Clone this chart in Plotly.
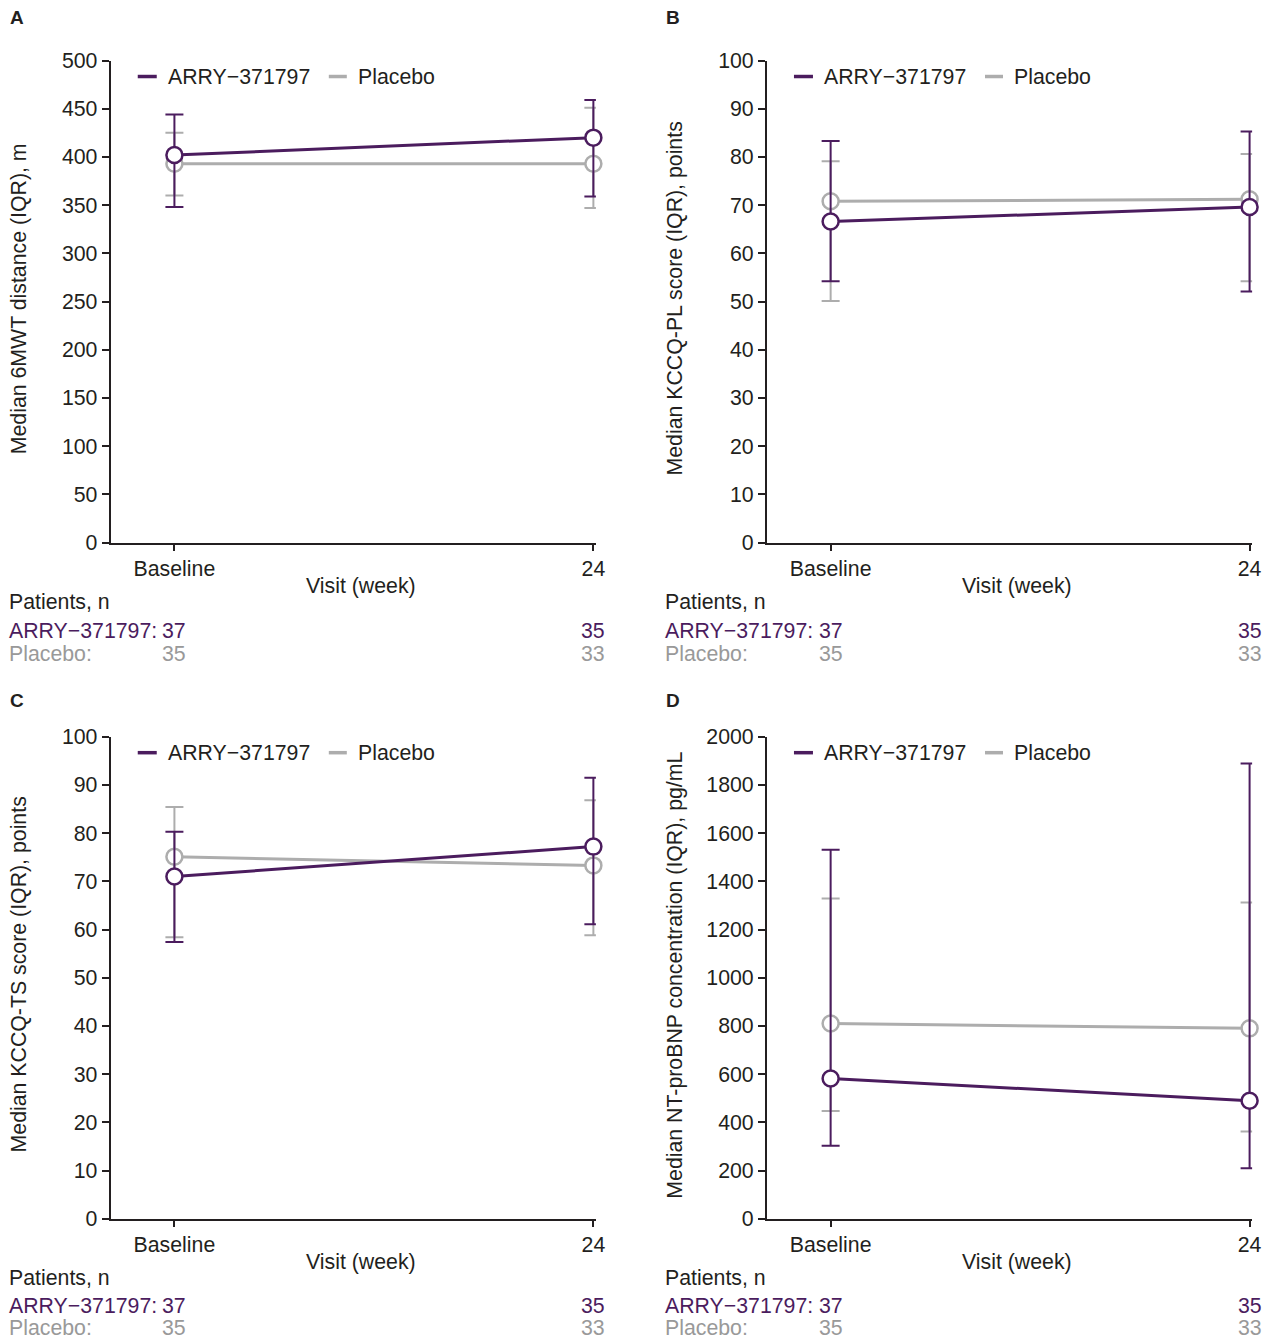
import plotly.graph_objects as go

# Figure canvas (body margin removed via post_script so figure starts at page 0,0)
W, H = 1272, 1352

PURPLE = "#4b1c5e"
GREY = "#adadad"
GREY_TXT = "#999999"
TXT = "#231f20"
FONT = "Liberation Sans, Arial, Helvetica, sans-serif"
FS = 21.3

# ---------------- data ----------------
visits = ["Baseline", "24"]
n_arry = [37, 35]
n_placebo = [35, 33]

# Panel A: 6MWT distance (m)
a_arry_med = [402, 420]
a_arry_q1 = [348, 359]
a_arry_q3 = [444, 459]
a_pl_med = [393, 393]
a_pl_q1 = [360, 347]
a_pl_q3 = [425, 451]

# Panel B: KCCQ-PL score
b_arry_med = [66.6, 69.6]
b_arry_q1 = [54.2, 52.1]
b_arry_q3 = [83.3, 85.3]
b_pl_med = [70.8, 71.2]
b_pl_q1 = [50.1, 54.2]
b_pl_q3 = [79.1, 80.6]

# Panel C: KCCQ-TS score
c_arry_med = [71.0, 77.2]
c_arry_q1 = [57.4, 61.1]
c_arry_q3 = [80.3, 91.5]
c_pl_med = [75.1, 73.3]
c_pl_q1 = [58.4, 58.8]
c_pl_q3 = [85.4, 86.8]

# Panel D: NT-proBNP (pg/mL)
d_arry_med = [582, 490]
d_arry_q1 = [303, 210]
d_arry_q3 = [1531, 1889]
d_pl_med = [810, 790]
d_pl_q1 = [447, 362]
d_pl_q3 = [1329, 1312]

panels = [
    dict(letter="A", left=112, top=60, ymax=500, dtick=50,
         ytitle="Median 6MWT distance (IQR), m",
         arry=(a_arry_med, a_arry_q1, a_arry_q3), pl=(a_pl_med, a_pl_q1, a_pl_q3)),
    dict(letter="B", left=768, top=60, ymax=100, dtick=10,
         ytitle="Median KCCQ-PL score (IQR), points",
         arry=(b_arry_med, b_arry_q1, b_arry_q3), pl=(b_pl_med, b_pl_q1, b_pl_q3)),
    dict(letter="C", left=112, top=736, ymax=100, dtick=10,
         ytitle="Median KCCQ-TS score (IQR), points",
         arry=(c_arry_med, c_arry_q1, c_arry_q3), pl=(c_pl_med, c_pl_q1, c_pl_q3)),
    dict(letter="D", left=768, top=736, ymax=2000, dtick=200,
         ytitle="Median NT-proBNP concentration (IQR), pg/mL",
         arry=(d_arry_med, d_arry_q1, d_arry_q3), pl=(d_pl_med, d_pl_q1, d_pl_q3)),
]

PW, PH = 485, 482  # plot area size (target px)
XR = [-0.152, 1.006]

# target-pixel -> canvas-pixel correction (measured from rendering)
SX, OX = 0.9926, 1.3
SY, OY = 0.982, 11.5


def px(x):
    return ((x - OX) / SX) / W


def py(y):
    return 1 - ((y - OY) / SY) / H


fig = go.Figure()
annotations = []
shapes = []
xpos = [0, 1]

for i, p in enumerate(panels):
    k = "" if i == 0 else str(i + 1)
    xa, ya = "x" + k, "y" + k
    L, T = p["left"], p["top"]
    R, B = L + PW, T + PH
    bottom_row = i >= 2

    for name, (med, q1, q3), col in [("Placebo", p["pl"], GREY), ("ARRY−371797", p["arry"], PURPLE)]:
        fig.add_trace(go.Scatter(
            x=xpos, y=med, mode="lines+markers", name=name, showlegend=False,
            xaxis=xa, yaxis=ya,
            line=dict(color=col, width=3),
            marker=dict(size=16, color="white", line=dict(color=col, width=2.5)),
            error_y=dict(type="data", symmetric=False,
                         array=[h - m for h, m in zip(q3, med)],
                         arrayminus=[m - l for m, l in zip(med, q1)],
                         color=col, thickness=2, width=9),
            cliponaxis=False,
        ))

    axis_common = dict(showline=True, linecolor=TXT, linewidth=2, ticks="outside",
                       tickcolor=TXT, tickwidth=1.5, showgrid=False, zeroline=False,
                       tickfont=dict(family=FONT, size=FS, color=TXT))
    fig.update_layout(**{
        "xaxis" + k: dict(domain=[px(L), px(R)], range=XR, tickvals=xpos, ticktext=visits,
                          ticklen=6, anchor=ya, fixedrange=True, **axis_common),
        "yaxis" + k: dict(domain=[py(B), py(T)], range=[0, p["ymax"]], dtick=p["dtick"],
                          tick0=0, ticklen=7, anchor=xa, fixedrange=True, **axis_common),
    })

    # panel letter
    annotations.append(dict(text="<b>" + p["letter"] + "</b>", x=px(L - 103), y=py(T - 43 if i < 2 else T - 36),
                            xref="paper", yref="paper", xanchor="left", yanchor="middle",
                            showarrow=False, font=dict(family=FONT, size=19, color=TXT)))
    # y title
    annotations.append(dict(text=p["ytitle"], x=px(L - 92), y=py(T + PH / 2 - 3),
                            xref="paper", yref="paper", xanchor="center", yanchor="middle",
                            textangle=-90, showarrow=False,
                            font=dict(family=FONT, size=FS, color=TXT)))
    # x title
    annotations.append(dict(text="Visit (week)", x=px(L + 250), y=py(B + 43),
                            xref="paper", yref="paper", xanchor="center", yanchor="middle",
                            showarrow=False, font=dict(family=FONT, size=FS, color=TXT)))
    # legend (manual)
    ly = py(T + 16)
    for lx0, lx1, tx, name, col in [(27, 46, 55, "ARRY−371797", PURPLE), (218, 236, 245, "Placebo", GREY)]:
        shapes.append(dict(type="line", xref="paper", yref="paper",
                           x0=px(L + lx0), x1=px(L + lx1), y0=ly, y1=ly,
                           line=dict(color=col, width=3.5)))
        annotations.append(dict(text=name, x=px(L + tx), y=ly, xref="paper", yref="paper",
                                xanchor="left", yanchor="middle", showarrow=False,
                                font=dict(family=FONT, size=FS, color=TXT)))
    # patients table (bottom panels nudged up slightly so the last row is not cut off)
    rows_y = [B + 59, B + 87, B + 109] if bottom_row else [B + 59, B + 88, B + 111]
    annotations.append(dict(text="Patients, n", x=px(L - 104), y=py(rows_y[0]),
                            xref="paper", yref="paper", xanchor="left", yanchor="middle",
                            showarrow=False, font=dict(family=FONT, size=FS, color=TXT)))
    for ry, label, ns, col in [(rows_y[1], "ARRY−371797:", n_arry, PURPLE),
                               (rows_y[2], "Placebo:", n_placebo, GREY_TXT)]:
        annotations.append(dict(text=label, x=px(L - 104), y=py(ry),
                                xref="paper", yref="paper", xanchor="left", yanchor="middle",
                                showarrow=False, font=dict(family=FONT, size=FS, color=col)))
        for xv, nv in zip(xpos, ns):
            annotations.append(dict(text=str(nv), x=xv, y=py(ry), xref=xa, yref="paper",
                                    xanchor="center", yanchor="middle", showarrow=False,
                                    font=dict(family=FONT, size=FS, color=col)))

fig.update_layout(width=W, height=H, margin=dict(l=0, r=0, t=0, b=0),
                  paper_bgcolor="white", plot_bgcolor="white",
                  annotations=annotations, shapes=shapes, showlegend=False)

fig.write_html("out.html", config={"displayModeBar": False},
               post_script="document.body.style.margin='0px';")
